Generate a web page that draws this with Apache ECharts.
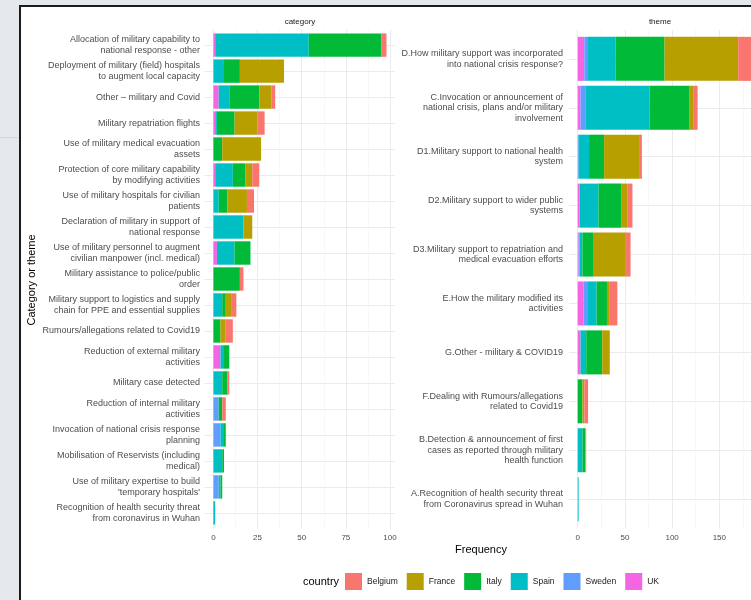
<!DOCTYPE html>
<html><head><meta charset="utf-8">
<script src="https://cdn.jsdelivr.net/npm/echarts@6/dist/echarts.min.js"></script>
<style>html,body{margin:0;padding:0;background:#fff}#c{width:751px;height:600px}</style>
</head><body><div id="c"></div>
<script>
// ---- data ----
const countries = ['UK', 'Sweden', 'Spain', 'Italy', 'France', 'Belgium']; // stacking order (left to right)
const legendOrder = ['Belgium', 'France', 'Italy', 'Spain', 'Sweden', 'UK'];
const countryColors = ['#F564E3', '#619CFF', '#00BFC4', '#00BA38', '#B79F00', '#F8766D'];

const categoryLabels = [
  'Allocation of military capability to\nnational response - other',
  'Deployment of military (field) hospitals\nto augment local capacity',
  'Other – military and Covid',
  'Military repatriation flights',
  'Use of military medical evacuation\nassets',
  'Protection of core military capability\nby modifying activities',
  'Use of military hospitals for civilian\npatients',
  'Declaration of military in support of\nnational response',
  'Use of military personnel to augment\ncivilian manpower (incl. medical)',
  'Military assistance to police/public\norder',
  'Military support to logistics and supply\nchain for PPE and essential supplies',
  'Rumours/allegations related to Covid19',
  'Reduction of external military\nactivities',
  'Military case detected',
  'Reduction of internal military\nactivities',
  'Invocation of national crisis response\nplanning',
  'Mobilisation of Reservists (including\nmedical)',
  "Use of military expertise to build\n'temporary hospitals'",
  'Recognition of health security threat\nfrom coronavirus in Wuhan'
];
const catUK      = [1, 0, 3, 1, 0, 1, 0, 0, 2, 0, 0, 0, 4, 0, 0, 0, 0, 0, 0];
const catSweden  = [0, 0, 0, 0, 0, 0, 0, 0, 0, 0, 0, 0, 0, 0, 3, 4, 0, 3, 0];
const catSpain   = [53, 6, 6, 1, 0, 10, 3, 17, 10, 0, 5, 0, 2, 5, 0, 2, 5, 1, 1];
const catItaly   = [41, 9, 17, 10, 5, 7, 5, 0, 9, 15, 2, 4, 3, 3, 2, 1, 1, 1, 0];
const catFrance  = [0, 25, 7, 13, 22, 4, 11, 5, 0, 0, 3, 3, 0, 0, 0, 0, 0, 0, 0];
const catBelgium = [3, 0, 2, 4, 0, 4, 4, 0, 0, 2, 3, 4, 0, 1, 2, 0, 0, 0, 0];

const themeLabels = [
  'D.How military support was incorporated\ninto national crisis response?',
  'C.Invocation or announcement of\nnational crisis, plans and/or military\ninvolvement',
  'D1.Military support to national health\nsystem',
  'D2.Military support to wider public\nsystems',
  'D3.Military support to repatriation and\nmedical evacuation efforts',
  'E.How the military modified its\nactivities',
  'G.Other - military & COVID19',
  'F.Dealing with Rumours/allegations\nrelated to Covid19',
  'B.Detection & announcement of first\ncases as reported through military\nhealth function',
  'A.Recognition of health security threat\nfrom Coronavirus spread in Wuhan'
];
const themeUK      = [7, 3, 0, 2, 1, 6, 3, 0, 0, 0];
const themeSweden  = [3, 5, 1, 0, 1, 4, 0, 0, 0, 0];
const themeSpain   = [30, 68, 11, 20, 3, 10, 6, 0, 5, 1];
const themeItaly   = [52, 42, 16, 24, 12, 11, 17, 5, 3, 0];
const themeFrance  = [78, 5, 37, 7, 34, 3, 8, 2, 0, 0];
const themeBelgium = [14, 4, 3, 5, 5, 8, 0, 4, 1, 0];

const catTicks = [0, 25, 50, 75, 100];
const themeTicks = [0, 50, 100, 150, 200];

// ---- build ----
const catData = { UK: catUK, Sweden: catSweden, Spain: catSpain, Italy: catItaly, France: catFrance, Belgium: catBelgium };
const themeData = { UK: themeUK, Sweden: themeSweden, Spain: themeSpain, Italy: themeItaly, France: themeFrance, Belgium: themeBelgium };

const FONT = '"Liberation Sans", Arial, sans-serif';
const GRID = '#ebebeb', GRIDMINOR = '#f3f3f3', AXT = '#4d4d4d';

// panel geometry
const pTop = 29.5, pBot = 528.5, pH = pBot - pTop;
const Ln = categoryLabels.length, Rn = themeLabels.length;
const Lband = pH / (Ln + 0.2), Rband = pH / (Rn + 0.2);
const L0 = 213.4, Lpx = 1.766;   // x of value 0, px per unit (left)
const R0 = 577.7, Rpx = 0.944;   // right panel

const grids = [
  { left: L0 - 8.7, width: 190.3, top: pTop + 0.6 * Lband, height: (Ln - 1) * Lband },
  { left: L0, width: 100 * Lpx, top: pTop, height: pH },
  { left: L0, width: 100 * Lpx, top: pTop + 0.1 * Lband, height: Ln * Lband },
  { left: R0 - 8.6, width: 220, top: pTop + 0.6 * Rband, height: (Rn - 1) * Rband },
  { left: R0, width: 200 * Rpx, top: pTop, height: pH },
  { left: R0, width: 200 * Rpx, top: pTop + 0.1 * Rband, height: Rn * Rband }
].map(g => Object.assign({ containLabel: false, outerBoundsMode: 'none' }, g));

function hiddenValue(gi, max) {
  return { type: 'value', gridIndex: gi, min: 0, max: max, show: false, splitLine: { show: false } };
}
function tickAxis(gi, ticks) {
  return {
    type: 'value', gridIndex: gi, min: 0, max: ticks[ticks.length - 1], interval: ticks[1] - ticks[0],
    axisLine: { show: false }, axisTick: { show: false },
    minorTick: { show: false, splitNumber: 2 },
    splitLine: { show: true, lineStyle: { color: GRID, width: 1 } },
    minorSplitLine: { show: true, lineStyle: { color: GRIDMINOR, width: 0.7 } },
    axisLabel: { color: AXT, fontSize: 8, fontFamily: FONT, margin: 5, showMaxLabel: true }
  };
}
const xAxis = [
  hiddenValue(0, 1), tickAxis(1, catTicks), hiddenValue(2, catTicks[catTicks.length - 1]),
  hiddenValue(3, 1), tickAxis(4, themeTicks), hiddenValue(5, themeTicks[themeTicks.length - 1])
];
function gridCat(gi, labels) {
  return {
    type: 'category', gridIndex: gi, data: labels, inverse: true, boundaryGap: false,
    axisLine: { show: false }, axisTick: { show: false }, axisLabel: { show: false },
    splitLine: { show: true, lineStyle: { color: GRID, width: 1 } }
  };
}
function barCat(gi, labels, margin) {
  return {
    type: 'category', gridIndex: gi, data: labels, inverse: true,
    axisLine: { show: false }, axisTick: { show: false }, splitLine: { show: false },
    axisLabel: { color: AXT, fontSize: 9, fontFamily: FONT, lineHeight: 10.5, margin: margin, interval: 0 }
  };
}
const yAxis = [
  gridCat(0, categoryLabels), { type: 'value', gridIndex: 1, show: false, min: 0, max: 1, splitLine: { show: false } },
  barCat(2, categoryLabels, 13.4),
  gridCat(3, themeLabels), { type: 'value', gridIndex: 4, show: false, min: 0, max: 1, splitLine: { show: false } },
  barCat(5, themeLabels, 14.7)
];

const series = [];
countries.forEach((c, i) => {
  series.push({ type: 'bar', name: c, stack: 'cat', xAxisIndex: 2, yAxisIndex: 2, data: catData[c],
    barCategoryGap: '10%', itemStyle: { color: countryColors[i] }, silent: true });
});
countries.forEach((c, i) => {
  series.push({ type: 'bar', name: c, stack: 'theme', xAxisIndex: 5, yAxisIndex: 5, data: themeData[c],
    barCategoryGap: '10%', itemStyle: { color: countryColors[i] }, silent: true });
});

const txt = (x, y, s, size, color, align, extra) => Object.assign({
  type: 'text', x: x, y: y,
  style: { text: s, fontSize: size, fill: color, fontFamily: FONT, align: align || 'center', verticalAlign: 'middle' }
}, extra || {});

const option = {
  animation: false,
  backgroundColor: '#ffffff',
  grid: grids,
  xAxis: xAxis,
  yAxis: yAxis,
  series: series,
  legend: {
    data: legendOrder, left: 345, top: 573, padding: 0, itemWidth: 17, itemHeight: 17, itemGap: 9, icon: 'rect',
    selectedMode: false,
    textStyle: { fontSize: 8.5, color: '#1a1a1a', fontFamily: FONT }
  },
  graphic: [
    txt(300, 22, 'category', 8, '#1a1a1a'),
    txt(660, 22, 'theme', 8, '#1a1a1a'),
    txt(481, 550, 'Frequency', 11, '#000'),
    txt(32, 280, 'Category or theme', 11, '#000', 'center', { rotation: Math.PI / 2 }),
    txt(303, 582, 'country', 11, '#000', 'left'),
    // frame
    { type: 'rect', shape: { x: 0, y: 0, width: 751, height: 5 }, style: { fill: '#e4e8eb' }, z: 100 },
    { type: 'rect', shape: { x: 0, y: 0, width: 19, height: 600 }, style: { fill: '#e4e8eb' }, z: 100 },
    { type: 'rect', shape: { x: 0, y: 137, width: 19, height: 1 }, style: { fill: '#d3d9dd' }, z: 101 },
    { type: 'rect', shape: { x: 19, y: 5, width: 2, height: 595 }, style: { fill: '#1c1c1c' }, z: 101 },
    { type: 'rect', shape: { x: 19, y: 5, width: 732, height: 2 }, style: { fill: '#1c1c1c' }, z: 101 }
  ]
};

const chart = echarts.init(document.getElementById('c'), null, { renderer: 'canvas' });
chart.setOption(option);
</script>
</body></html>
